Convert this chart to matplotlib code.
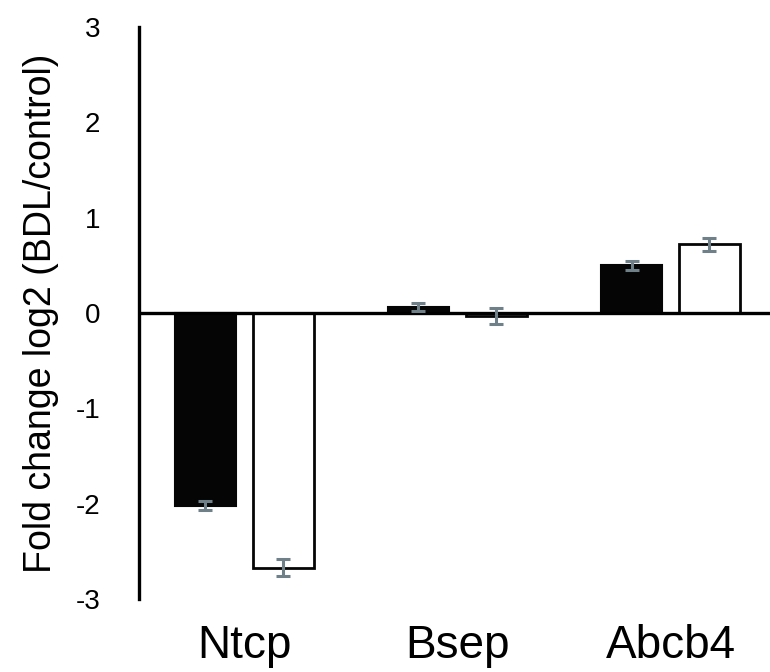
import numpy as np
import matplotlib.pyplot as plt

plt.rcParams['font.family'] = ['Liberation Sans', 'DejaVu Sans']
plt.rcParams['axes.unicode_minus'] = False

# Datos
genes = ['Ntcp', 'Bsep', 'Abcb4']
serie_negra = [-2.02, 0.06, 0.50]
error_negra = [0.05, 0.04, 0.05]
serie_blanca = [-2.67, -0.03, 0.72]
error_blanca = [0.09, 0.08, 0.07]

x = np.arange(len(genes))
ancho = 0.29
desp = 0.183

fig = plt.figure(figsize=(7.7, 6.72), dpi=100)
ax = fig.add_axes([0.1805, 0.1086, 0.8195, 0.8512])

ax.bar(x - desp, serie_negra, ancho, color='#050505', edgecolor='#050505', linewidth=1.5, zorder=2)
ax.bar(x + desp, serie_blanca, ancho, color='white', edgecolor='#050505', linewidth=2.0, zorder=2)

ax.errorbar(x - desp, serie_negra, yerr=error_negra, fmt='none', ecolor='#6f8088',
            elinewidth=2.2, capsize=5, capthick=2.2, zorder=4)
ax.errorbar(x + desp, serie_blanca, yerr=error_blanca, fmt='none', ecolor='#6f8088',
            elinewidth=2.2, capsize=5, capthick=2.2, zorder=4)

ax.axhline(0, color='black', linewidth=2.4, zorder=3)

ax.set_xlim(-0.495, 2.467)
ax.set_ylim(-3, 3)
ax.set_yticks(np.arange(-3, 4, 1))
ax.set_xticks(x)
ax.set_xticklabels(genes, fontsize=33)
ax.tick_params(axis='y', length=0, pad=28, labelsize=20)
ax.tick_params(axis='x', length=0, pad=18)

for lado in ['top', 'right', 'bottom']:
    ax.spines[lado].set_visible(False)
ax.spines['left'].set_linewidth(2.4)

ax.set_ylabel('Fold change log2 (BDL/control)', fontsize=27, labelpad=12)

plt.savefig('out.png', dpi=100)
